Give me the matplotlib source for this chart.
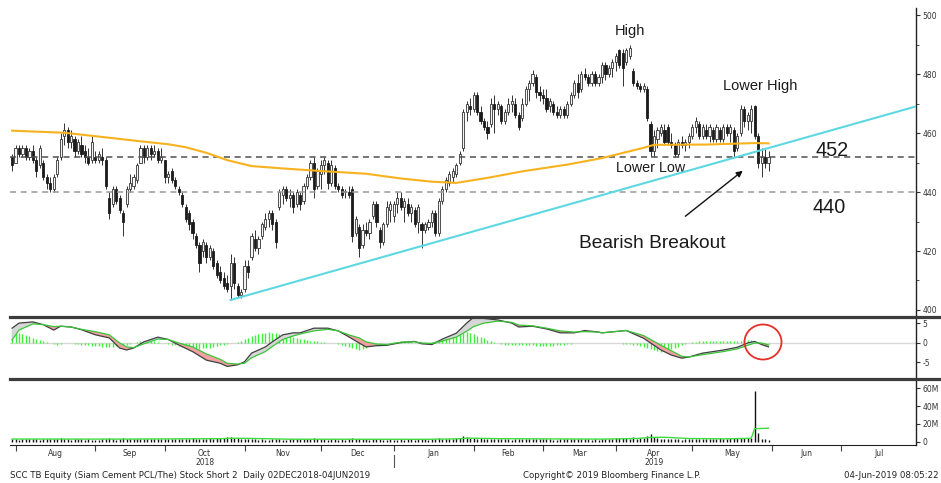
import numpy as np
import pandas as pd
import matplotlib
matplotlib.use('Agg')
import matplotlib.pyplot as plt
from matplotlib.patches import Ellipse
from matplotlib.lines import Line2D

W, H = 941, 483
dates = pd.bdate_range('2018-07-31', '2019-07-31')

opens = [452,450,455,453,455,452,454,451,449,450,
         445,443,441,446,452,459,461,457,458,454,
         456,454,452,451,452,451,452,451,438,436,
         441,438,433,436,441,442,444,450,455,452,
         455,453,454,451,451,445,447,444,441,439,
         435,433,430,425,422,420,422,418,420,416,
         413,411,409,408,416,408,405,407,415,418,
         424,421,425,428,431,433,430,435,439,441,
         438,439,436,439,437,442,445,450,442,446,
         449,450,443,448,442,441,440,440,441,426,
         428,422,427,426,432,436,427,423,429,434,
         432,436,438,435,436,433,434,430,429,427,
         428,430,433,426,437,441,443,445,446,450,
         455,467,469,468,473,467,464,462,463,470,
         468,469,464,467,470,470,466,465,470,475,
         477,479,474,473,472,469,470,467,466,468,
         466,470,473,477,475,480,479,477,480,477,
         479,483,480,482,484,488,487,484,486,481,
         477,476,475,475,463,454,458,460,461,462,
         457,456,453,457,456,457,459,462,463,459,
         461,459,461,458,461,458,462,460,461,455,
         460,468,464,464,469,459,450,452,450]
highs = [453,456,456,456,456,455,456,452,456,451,
         446,445,446,452,460,463.5,462,461,459,458,
         459,456,455,459,454,454,455,452,440,442,
         442,439,434,442,446,446,450,456,456,456,
         456,456,455,455,451,447,448,445,442,440,
         436,434,431,426,423,424,423,422,421,417,
         415,413,412,419,418,409,407,417,417,426,
         427,425,430,433,434,434,431,441,442,442,
         441,440,441,440,443,446,451,452,448,451,
         452,451,451,449,443,442,441,442,442,432,
         429,429,430,431,437,437,428,430,437,437,
         437,440,440,438,438,436,435,436,430,430,
         431,434,434,438,442,445,447,448,450,454,
         468,471,472,474,474,469,465,464,472,473,
         471,470,468,472,473,472,467,472,476,478,
         481.5,480,476,475,475,472,471,469,469,469,
         471,474,478,480,481,482,480,481,481,480,
         484,484,483,485,487,488.5,488.5,489,490,482,
         478,477,477,476,464,461,462,463,463,463,
         460,457,458,459,458,460,463,465.5,464,463,
         463,463,462,463,462,463,463,463,462,460,
         469.5,469,467,469.5,469.5,460,455,455,454]
lows = [447,450,452,452,451,451,450,445,448,444,
        441,440,440,445,451,456,455,455,452,453,
        452,450,449,450,450,450,449,441,431,435,
        436,433,425,435,440,441,443,450,450,451,
        451,452,450,450,443,443,443,441,439,435,
        430,427,424,421,413,418,416,417,414,411,
        409,407,406,403.5,407,404,404,406,411,417,
        420,419,424,427,428,427,421,434,436,437,
        435,433,435,434,436,441,444,438,441,441,
        446,441,442,441,440,438,438,438,423,425,
        418,421,425,424,431,428,421,422,428,430,
        430,433,434,430,432,430,428,426,421,426,
        427,428,425,425,436,440,442,443,445,449,
        454,464,466,467,466,463,461,458,462,460,
        466,463,463,466,467,465,461,464,469,471,
        476,472,471,470,467,467,466,465,465,465,
        465,469,472,472,474,478,476,476,476,476,
        477,478,479,479,481,482,476,483,485,476,
        475,474,474,464,452,452,455,459,456,456,
        455,452,452,455,454,455,458,460,458,458,
        458,457,457,457,457,457,459,457,452,454,
        459,462,461,460,458,448,445,448,447]
closes = [449,455,453,455,452,454,451,447,455,445,
          443,441,445,451,458,461,457,459,454,457,
          453,452,450,457,451,453,451,442,433,441,
          437,434,430,441,443,445,449,455,452,455,
          453,454,451,452,445,446,444,442,440,436,
          431,429,426,422,416,423,418,421,415,412,
          410,408,407,416,409,405,406,415,413,425,
          421,424,429,431,433,429,423,440,441,438,
          439,435,440,436,442,445,450,441,447,449,
          451,443,449,442,441,439,440,439,425,431,
          421,427,426,430,436,430,423,429,435,436,
          436,438,435,437,433,435,429,435,427,429,
          430,433,426,437,441,444,446,447,449,453,
          467,470,468,473,467,464,462,460,470,468,
          470,464,467,470,471,466,462,470,475,477,
          480,474,473,472,468,471,467,466,468,466,
          470,473,477,474,480,479,477,480,477,479,
          483,480,482,484,486,483,482,488,489,477,
          476,475,476,465,454,459,461,462,457,457,
          456,453,457,456,457,459,462,464,459,462,
          459,462,458,462,458,462,460,462,454,459,
          468,464,466,468,459,450,452,450,452]

# 200-day moving average (read at selected bars)
ma_bar = [0,15,25,37,45,50,56,62,69,78,88,102,112,121,128,137,147,160,170,182,185,200,214,218]
ma_val = [460.8,460.1,458.8,457.2,456.2,455.2,453.3,450.8,448.8,448.0,447.2,446.2,444.6,
          443.5,443.1,444.8,447.0,449.3,451.5,455.0,456.0,456.1,456.6,456.5]

# trend line
trend_bar = [63, 261]
trend_val = [403.4, 469.2]
levels = [452, 440]

# MACD
macd_bar = [0,2,6,9,12,14,17,20,24,28,31,33,35,38,42,45,48,52,56,60,62,65,67,69,73,75,78,81,83,87,
            91,94,97,100,102,105,108,112,116,118,121,124,128,131,133,136,140,144,146,150,
            154,158,162,165,169,170,177,182,187,190,193,195,199,205,209,212,214,216,218]
macd_line = [3.8,5.1,5.4,4.7,3.3,4.3,4.1,3.4,2.1,1.3,-1.3,-1.8,-1.3,0.3,1.5,0.9,-0.5,-2.2,-4.4,-5.2,
             -6.0,-5.6,-4.8,-2.6,-1.0,0.3,2.1,2.6,2.6,3.8,3.8,3.1,1.6,0.0,-1.0,-0.7,-0.6,0.1,0.4,-0.2,
             -0.4,1.0,2.5,5.1,6.6,6.3,5.9,5.1,4.1,4.3,3.6,2.6,2.6,3.2,2.8,2.6,3.2,1.2,-1.8,-3.1,
             -3.9,-3.6,-2.6,-1.8,-1.1,0.0,0.4,-0.4,-1.0]
signal_line = [0.8,3.3,4.9,4.7,4.2,4.3,4.1,3.5,2.9,2.1,0.0,-1.0,-1.2,-0.2,1.0,0.9,0.0,-1.0,-2.8,-4.2,
               -5.2,-5.4,-5.2,-3.8,-2.2,-0.9,0.9,1.8,2.3,3.1,3.5,3.1,2.1,1.3,0.3,-0.3,-0.4,0.2,0.3,0.0,
               -0.1,0.5,1.5,3.0,4.2,5.1,5.6,5.3,4.6,4.4,3.8,3.1,2.8,2.9,2.8,2.6,3.2,1.9,-0.6,-2.0,
               -3.4,-3.6,-3.0,-2.2,-1.5,-0.6,0.0,0.0,-0.5]
macd_hist = [3.4,3.0,2.6,2.3,2.0,1.7,1.4,1.1,0.8,0.5,
             0.3,0.1,-0.3,-0.5,-0.3,0.1,0.1,-0.1,-0.2,-0.3,
             -0.4,-0.5,-0.6,-0.7,-0.8,-0.9,-1.0,-1.0,-1.1,-1.0,
             -0.9,-0.8,-0.6,-0.4,-0.2,0.1,0.3,0.5,0.6,0.6,
             0.5,0.4,0.3,0.1,0.0,-0.2,-0.4,-0.6,-0.8,-1.0,
             -1.2,-1.3,-1.4,-1.5,-1.5,-1.4,-1.3,-1.2,-1.0,-0.8,
             -0.6,-0.4,-0.2,-0.1,0.0,0.2,0.5,0.9,1.3,1.7,
             2.0,2.3,2.5,2.6,2.7,2.6,2.5,2.3,2.1,1.9,
             1.7,1.5,1.3,1.1,0.9,0.8,0.6,0.5,0.4,0.3,
             0.2,0.1,0.0,-0.1,-0.3,-0.5,-0.8,-1.1,-1.4,-1.6,
             -1.7,-1.6,-1.3,-0.9,-0.6,-0.4,-0.2,-0.1,0.0,0.1,
             0.2,0.3,0.4,0.4,0.3,0.2,0.1,0.0,-0.1,-0.1,
             0.0,0.2,0.5,0.8,1.1,1.4,1.7,2.0,2.2,2.4,
             2.6,2.7,2.5,2.2,1.9,1.6,1.2,0.8,0.5,0.2,
             0.0,-0.2,-0.4,-0.5,-0.6,-0.6,-0.5,-0.4,-0.4,-0.5,
             -0.6,-0.7,-0.8,-0.9,-0.9,-0.8,-0.7,-0.6,-0.5,-0.4,
             -0.3,-0.2,-0.1,0.0,0.1,0.1,0.1,0.0,0.0,0.1,
             0.1,0.1,0.0,0.0,-0.1,-0.1,-0.2,-0.2,-0.3,-0.5,
             -0.6,-0.8,-1.0,-1.3,-1.6,-1.9,-2.1,-2.2,-2.1,-1.9,
             -1.6,-1.3,-1.0,-0.6,-0.3,0.0,0.2,0.3,0.4,0.5,
             0.5,0.6,0.6,0.6,0.6,0.6,0.6,0.5,0.5,0.5,
             0.6,0.7,0.8,0.7,0.5,0.2,-0.1,-0.2,-0.3]

# Volume (millions)
volume_m = [2.5,3.0,2.2,2.8,3.1,2.4,2.6,3.3,2.1,2.9,
            2.7,3.2,2.5,2.8,3.6,2.9,2.4,2.2,2.6,3.0,
            2.3,1.9,2.5,2.0,1.8,2.2,2.4,3.1,3.4,2.6,
            2.2,2.8,3.5,2.9,2.4,2.7,2.6,3.0,3.2,2.5,
            2.4,2.9,2.3,2.6,2.8,3.0,2.7,2.4,2.9,3.3,
            3.1,2.8,3.5,3.2,2.9,3.0,2.7,3.4,3.1,3.6,
            3.8,4.2,5.0,5.6,4.4,3.9,3.2,3.0,2.7,2.5,
            2.4,2.2,2.6,2.1,1.9,2.3,2.8,2.5,2.2,2.0,
            2.4,2.7,3.0,2.6,2.3,2.9,3.3,3.6,2.8,2.5,
            2.7,2.2,2.9,2.4,2.1,2.3,2.0,2.6,3.8,2.9,
            3.2,2.6,2.3,2.1,2.8,2.4,2.9,2.2,1.9,2.3,
            1.8,2.1,2.4,2.0,2.6,2.3,2.2,2.9,3.1,2.4,
            2.2,2.6,3.0,3.4,2.8,2.5,2.9,3.2,3.6,4.1,
            6.2,5.1,4.3,3.6,3.2,3.9,2.8,3.3,3.0,2.6,
            2.4,2.8,2.5,2.9,2.2,2.6,3.1,2.7,2.4,3.0,
            3.3,2.8,2.5,2.3,2.9,2.6,2.2,2.0,2.4,2.7,
            2.5,2.9,3.2,2.6,2.3,2.8,2.4,2.1,2.5,2.2,
            2.6,2.9,2.7,3.1,3.4,3.8,4.2,3.5,3.3,4.6,
            3.1,3.6,4.0,6.5,8.2,5.4,3.9,3.3,2.8,3.1,
            2.6,2.9,2.4,2.2,2.5,2.7,2.3,2.9,2.6,2.4,
            2.8,3.0,2.6,3.2,3.5,2.9,3.3,3.6,4.1,3.4,
            3.8,4.2,3.9,4.5,57.0,10.0,3.2,2.4,1.6]
volma_bar = [0,30,60,64,70,80,120,128,132,140,170,180,184,188,195,205,213,214,218]
volma_val = [2.8,2.7,3.2,3.7,3.4,2.6,2.5,3.0,3.8,3.2,2.7,3.4,4.6,4.8,3.4,3.0,3.6,14.5,15.0]

price_ticks = [400, 420, 440, 460, 480, 500]
macd_ticks = [-5, 0, 5]
vol_ticks = [0, 20, 40, 60]
vol_tick_labels = ['0', '20M', '40M', '60M']
month_labels = ['Aug','Sep','Oct','Nov','Dec','Jan','Feb','Mar','Apr','May','Jun','Jul']
year_labels = {'2018': 'Oct', '2019': 'Apr'}

# ---------------------------------------------------------------
plt.rcParams['font.family'] = ['DejaVu Sans']
plt.rcParams['axes.unicode_minus'] = False
fig = plt.figure(figsize=(W / 100, H / 100), dpi=100)
fig.patch.set_facecolor('white')

def box(left, top, right, bottom):
    return [left / W, 1 - bottom / H, (right - left) / W, (bottom - top) / H]

ax_p = fig.add_axes(box(10, 8, 916, 315))
ax_m = fig.add_axes(box(10, 319, 916, 377))
ax_v = fig.add_axes(box(10, 381, 916, 445))

XL = (-0.6, 260.5)
for ax in (ax_p, ax_m, ax_v):
    ax.set_xlim(*XL)
    ax.set_facecolor('white')
    for s in ('top', 'left', 'bottom'):
        ax.spines[s].set_visible(False)
    ax.spines['right'].set_color('#222222')
    ax.spines['right'].set_linewidth(1.0)
    ax.yaxis.tick_right()
    ax.tick_params(axis='y', direction='out', length=3, width=0.8, labelsize=5.5,
                   pad=1.5, colors='#333333')
    ax.tick_params(axis='y', which='minor', length=2, width=0.6, colors='#333333')
    ax.set_xticks([])

# ---- price panel
ax_p.set_ylim(398.3, 502.4)
ax_p.set_yticks(price_ticks)
ax_p.set_yticks([410, 430, 450, 470, 490], minor=True)

o = np.array(opens, float); h = np.array(highs, float)
l = np.array(lows, float); c = np.array(closes, float)
x = np.arange(len(c))
up = c >= o
ax_p.vlines(x, l, h, color='#333333', lw=0.7, zorder=2)
bb = np.minimum(o, c)
bh = np.maximum(np.abs(c - o), 0.4)
ax_p.bar(x[up], bh[up], bottom=bb[up], width=0.62, color='#f4f4f4',
         edgecolor='#333333', lw=0.6, zorder=2.5)
ax_p.bar(x[~up], bh[~up], bottom=bb[~up], width=0.62, color='#1c1c1c',
         edgecolor='#1c1c1c', lw=0.6, zorder=2.5)

ax_p.axhline(levels[0], color='#505050', lw=1.1, dashes=(4, 3), zorder=3)
ax_p.axhline(levels[1], color='#9a9a9a', lw=1.1, dashes=(4, 3), zorder=3)
ax_p.plot(ma_bar, ma_val, color='#F7B21E', lw=1.5, zorder=4)
ax_p.plot(trend_bar, trend_val, color='#5DD8E2', lw=1.5, zorder=4, clip_on=True)

afont = dict(family=['Liberation Sans', 'DejaVu Sans'], color='#1a1a1a')
ax_p.text(178, 494.6, 'High', ha='center', va='center', fontsize=10.5, **afont)
ax_p.text(215.6, 476.0, 'Lower High', ha='center', va='center', fontsize=10.5, **afont)
ax_p.text(184, 448.1, 'Lower Low', ha='center', va='center', fontsize=10.3, **afont)
ax_p.text(236.3, 454.2, '452', ha='center', va='center', fontsize=14.3, **afont)
ax_p.text(235.4, 434.9, '440', ha='center', va='center', fontsize=14.3, **afont)
ax_p.text(184.4, 422.7, 'Bearish Breakout', ha='center', va='center', fontsize=13.8, **afont)
ax_p.annotate('', xy=(211.2, 447.8), xytext=(193.4, 431.2),
              arrowprops=dict(arrowstyle='-|>', color='#111111', lw=1.0, mutation_scale=9))

# ---- MACD panel
ax_m.set_ylim(-8.72, 6.15)
ax_m.set_yticks(macd_ticks)
ax_m.axhline(0, color='#d8d8d8', lw=1.0, zorder=1)
ax_m.vlines(x, 0, macd_hist, color='#3CF03C', lw=1.0, zorder=2)
mb = np.array(macd_bar, float); ml = np.array(macd_line); sl = np.array(signal_line)
ax_m.fill_between(mb, ml, sl, where=ml >= sl, interpolate=True, color='#d6d6d6', lw=0, zorder=2.5)
ax_m.fill_between(mb, ml, sl, where=ml < sl, interpolate=True, color='#f2a0a0', lw=0, zorder=2.5)
ax_m.plot(mb, ml, color='#404040', lw=0.9, zorder=3)
ax_m.plot(mb, sl, color='#39c639', lw=0.9, zorder=3)

# ---- Volume panel
ax_v.set_ylim(-3.95, 68.4)
ax_v.set_yticks(vol_ticks)
ax_v.set_yticklabels(vol_tick_labels)
ax_v.vlines(x, 0, volume_m, color='#111111', lw=1.0, zorder=2)
ax_v.plot(volma_bar, volma_val, color='#3ddc3d', lw=1.0, zorder=3)
ax_v.spines['bottom'].set_visible(True)
ax_v.spines['bottom'].set_color('#222222')

months = [d.month for d in dates]
starts = [i for i in range(1, len(dates)) if months[i] != months[i - 1]]
ends = starts[1:] + [len(dates) - 1]
mids = [(a + b) / 2 for a, b in zip(starts, ends)]
ax_v.set_xticks(starts)
ax_v.set_xticklabels([])
ax_v.tick_params(axis='x', which='major', direction='out', length=4, width=0.8, colors='#444444')
ax_v.set_xticks(mids, minor=True)
ax_v.set_xticklabels(month_labels, minor=True)
ax_v.tick_params(axis='x', which='minor', length=0, labelsize=5.5, pad=3, labelcolor='#333333')

for yr, mon in year_labels.items():
    k = month_labels.index(mon)
    ax_v.text(mids[k], -0.27, yr, transform=ax_v.get_xaxis_transform(), ha='center',
              va='center', fontsize=5.5, color='#333333')
jan = starts[month_labels.index('Jan')]
ax_v.plot([jan, jan], [-0.16, -0.35], transform=ax_v.get_xaxis_transform(),
          color='#555555', lw=0.8, clip_on=False)

# separators
for yy in (316.8, 378.6):
    fig.add_artist(Line2D([10 / W, 1.0], [1 - yy / H] * 2, lw=2.3, color='#3c3c3c'))

# circle
fig.add_artist(Ellipse((763 / W, 1 - 342 / H), 37 / W, 35 / H, transform=fig.transFigure,
                       fill=False, ec='#e3302a', lw=1.3))

# footer
fy = 1 - 475 / H
fig.text(10 / W, fy, 'SCC TB Equity (Siam Cement PCL/The) Stock Short 2  Daily 02DEC2018-04JUN2019',
         fontsize=6.2, color='#222222', ha='left', va='center')
fig.text(612 / W, fy, 'Copyright\u00a9 2019 Bloomberg Finance L.P.', fontsize=6.2,
         color='#222222', ha='center', va='center')
fig.text(939 / W, fy, '04-Jun-2019 08:05:22', fontsize=6.2, color='#222222',
         ha='right', va='center')

fig.savefig('out.png', dpi=100, facecolor='white')
